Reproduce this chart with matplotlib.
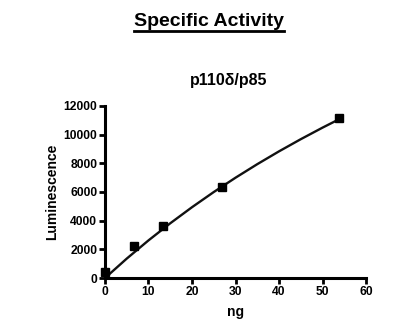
import matplotlib
matplotlib.use("Agg")
import matplotlib.pyplot as plt
from matplotlib.lines import Line2D

plt.rcParams['font.family'] = ['Liberation Sans', 'DejaVu Sans']
plt.rcParams['font.weight'] = 'bold'

# measured points
ng = [0, 6.7, 13.4, 26.9, 53.8]
lum = [400, 2250, 3600, 6350, 11150]

# fitted curve
fit_x = [0, 5, 10, 15, 20, 25, 30, 35, 40, 45, 50, 54]
fit_y = [0, 1355, 2625, 3817, 4938, 5996, 6994, 7938, 8832, 9680, 10485, 11100]

xticks = [0, 10, 20, 30, 40, 50, 60]
yticks = [0, 2000, 4000, 6000, 8000, 10000, 12000]

fig = plt.figure(figsize=(4.06, 3.31), dpi=100)
ax = fig.add_axes([0.2586, 0.160, 0.6429, 0.520])

ax.plot(fit_x, fit_y, color='#111111', lw=1.7, zorder=2)
ax.plot(ng, lum, 's', color='black', ms=5.6, zorder=3, clip_on=False)

ax.set_xlim(0, 60)
ax.set_ylim(0, 12000)
ax.set_xticks(xticks)
ax.set_yticks(yticks)
for s in ['top', 'right']:
    ax.spines[s].set_visible(False)
for s in ['left', 'bottom']:
    ax.spines[s].set_linewidth(2.2)
ax.tick_params(width=2, length=4, labelsize=8.7, pad=1.5)
for lab in ax.get_xticklabels() + ax.get_yticklabels():
    lab.set_fontweight('bold')

ax.set_xlabel('ng', fontsize=10, fontweight='bold', labelpad=5)
ax.set_ylabel('Luminescence', fontsize=10, fontweight='bold', labelpad=3)
fig.text(0.564, 0.758, 'p110δ/p85', ha='center', va='center',
         fontsize=11.5, fontweight='bold')

t = fig.text(0.515, 0.935, 'Specific Activity', ha='center', va='center',
             fontsize=14, fontweight='bold')
fig.canvas.draw()
bb = t.get_window_extent().transformed(fig.transFigure.inverted())
fig.add_artist(Line2D([bb.x0, bb.x1], [bb.y0 - 0.004, bb.y0 - 0.004],
                      color='black', lw=2, transform=fig.transFigure))

fig.savefig('out.png', dpi=100)
